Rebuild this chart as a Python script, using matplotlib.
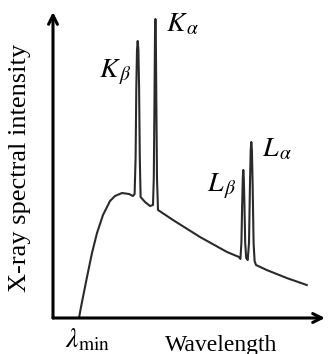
import matplotlib.pyplot as plt

plt.rcParams['font.family'] = ['Liberation Serif', 'DejaVu Serif']
plt.rcParams['mathtext.fontset'] = 'stix'

# spectrum outline (arbitrary units)
wavelength = [26, 28, 30, 32, 34, 39, 44, 50, 57, 62, 69, 76, 80, 81.6,
              82.6, 83.3, 84, 84.7, 85.4, 86.1, 86.8, 87.6, 92, 97, 100,
              100.8, 101.5, 102, 102.4, 102.8, 103.3, 104, 105, 120, 147, 174, 186,
              187.4, 188.4, 189.2, 189.8, 190.3, 190.8, 191.4, 192.2, 193.2, 194.7,
              196, 197, 197.7, 198.3, 198.9, 199.6, 200.6, 201.6, 203, 213.7, 233.7, 253.7]
intensity = [0, 11, 21, 31, 41, 65, 85, 103, 117, 122, 125, 124, 122, 124,
             160, 230, 268, 277, 268, 230, 160, 121, 116, 112, 113,
             140, 220, 285, 299, 285, 220, 140, 108, 98, 81, 66, 61,
             59, 75, 115, 140, 148, 140, 115, 75, 60, 58,
             75, 135, 168, 176, 168, 135, 75, 57, 53, 48, 40, 33]

peak_labels = [r'$K_{\,\beta}$', r'$K_{\,\alpha}$', r'$L_{\,\beta}$', r'$L_{\,\alpha}$']
label_x = [46, 113, 154, 209]
label_y = [246, 293, 132, 168]

fig = plt.figure(figsize=(3.31, 3.54), dpi=100)
ax = fig.add_axes([53 / 331, 36 / 354, 272 / 331, 306 / 354])
ax.set_xlim(0, 272)
ax.set_ylim(0, 306)
ax.axis('off')

ax.plot(wavelength, intensity, color='#2a2a2a', lw=1.5, solid_joinstyle='round')

arrow = dict(arrowstyle='->', lw=2.2, color='black', mutation_scale=16, shrinkA=0, shrinkB=0)
ax.annotate('', xy=(1, 0), xytext=(0, 0), xycoords='axes fraction', arrowprops=arrow)
ax.annotate('', xy=(0, 1), xytext=(0, 0), xycoords='axes fraction', arrowprops=arrow)

for lab, x, y in zip(peak_labels, label_x, label_y):
    ax.text(x, y, lab, fontsize=20, ha='left', va='center')

fig.text(20 / 331, 1 - 168 / 354, 'X-ray spectral intensity', rotation=90,
         fontsize=19, ha='center', va='center')
fig.text(221 / 331, 1 - 345 / 354, 'Wavelength', fontsize=17, ha='center', va='center')
fig.text(87 / 331, 1 - 340 / 354, r'$\lambda_{\mathrm{min}}$', fontsize=20, ha='center', va='center')

fig.savefig('out.png', dpi=100)
